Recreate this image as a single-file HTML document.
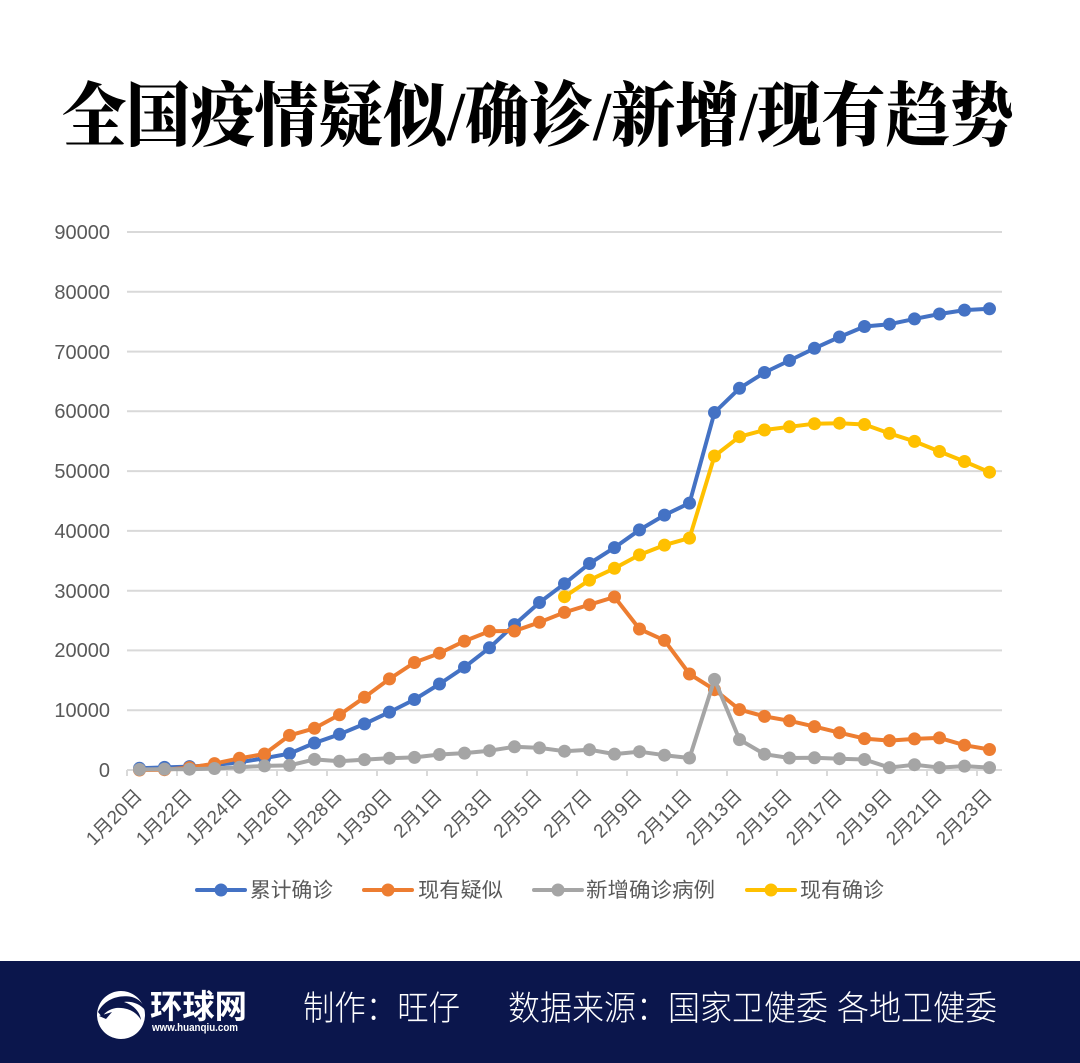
<!DOCTYPE html>
<html>
<head>
<meta charset="utf-8">
<style>
html,body{margin:0;padding:0;background:#fff;}
body{width:1080px;height:1063px;overflow:hidden;}
svg{display:block;}
</style>
</head>
<body>
<svg width="1080" height="1063" viewBox="0 0 1080 1063" xmlns="http://www.w3.org/2000/svg">
<rect x="0" y="0" width="1080" height="1063" fill="#ffffff"/>

<!-- Title -->
<text x="62" y="140" font-family="'Liberation Serif','Noto Serif CJK SC',serif" font-weight="900" font-size="70" fill="#000" textLength="952" lengthAdjust="spacingAndGlyphs">全国疫情疑似/确诊/新增/现有趋势</text>

<!-- Gridlines -->
<g stroke="#d9d9d9" stroke-width="2" fill="none">
<line x1="127" y1="232.0" x2="1002" y2="232.0"/>
<line x1="127" y1="291.8" x2="1002" y2="291.8"/>
<line x1="127" y1="351.6" x2="1002" y2="351.6"/>
<line x1="127" y1="411.3" x2="1002" y2="411.3"/>
<line x1="127" y1="471.1" x2="1002" y2="471.1"/>
<line x1="127" y1="530.9" x2="1002" y2="530.9"/>
<line x1="127" y1="590.7" x2="1002" y2="590.7"/>
<line x1="127" y1="650.4" x2="1002" y2="650.4"/>
<line x1="127" y1="710.2" x2="1002" y2="710.2"/>
<line x1="127" y1="770" x2="1002" y2="770"/>
</g>
<!-- Tick marks -->
<g stroke="#d9d9d9" stroke-width="2">
<line x1="127" y1="770" x2="127" y2="776"/><line x1="177" y1="770" x2="177" y2="776"/><line x1="227" y1="770" x2="227" y2="776"/><line x1="277" y1="770" x2="277" y2="776"/><line x1="327" y1="770" x2="327" y2="776"/><line x1="377" y1="770" x2="377" y2="776"/><line x1="427" y1="770" x2="427" y2="776"/><line x1="477" y1="770" x2="477" y2="776"/><line x1="527" y1="770" x2="527" y2="776"/><line x1="577" y1="770" x2="577" y2="776"/><line x1="627" y1="770" x2="627" y2="776"/><line x1="677" y1="770" x2="677" y2="776"/><line x1="727" y1="770" x2="727" y2="776"/><line x1="777" y1="770" x2="777" y2="776"/><line x1="827" y1="770" x2="827" y2="776"/><line x1="877" y1="770" x2="877" y2="776"/><line x1="927" y1="770" x2="927" y2="776"/><line x1="977" y1="770" x2="977" y2="776"/>
</g>

<!-- Y labels -->
<g font-family="'Liberation Sans',sans-serif" font-size="20" fill="#595959" text-anchor="end">
<text x="110" y="239">90000</text>
<text x="110" y="299">80000</text>
<text x="110" y="359">70000</text>
<text x="110" y="418">60000</text>
<text x="110" y="478">50000</text>
<text x="110" y="538">40000</text>
<text x="110" y="598">30000</text>
<text x="110" y="657">20000</text>
<text x="110" y="717">10000</text>
<text x="110" y="777">0</text>
</g>

<!-- X labels -->
<g font-family="'Liberation Sans','Noto Sans CJK SC',sans-serif" font-size="19" fill="#595959" text-anchor="end">
<text transform="translate(143,797) rotate(-45)">1月20日</text>
<text transform="translate(193,797) rotate(-45)">1月22日</text>
<text transform="translate(243,797) rotate(-45)">1月24日</text>
<text transform="translate(293,797) rotate(-45)">1月26日</text>
<text transform="translate(343,797) rotate(-45)">1月28日</text>
<text transform="translate(393,797) rotate(-45)">1月30日</text>
<text transform="translate(443,797) rotate(-45)">2月1日</text>
<text transform="translate(493,797) rotate(-45)">2月3日</text>
<text transform="translate(543,797) rotate(-45)">2月5日</text>
<text transform="translate(593,797) rotate(-45)">2月7日</text>
<text transform="translate(643,797) rotate(-45)">2月9日</text>
<text transform="translate(693,797) rotate(-45)">2月11日</text>
<text transform="translate(743,797) rotate(-45)">2月13日</text>
<text transform="translate(793,797) rotate(-45)">2月15日</text>
<text transform="translate(843,797) rotate(-45)">2月17日</text>
<text transform="translate(893,797) rotate(-45)">2月19日</text>
<text transform="translate(943,797) rotate(-45)">2月21日</text>
<text transform="translate(993,797) rotate(-45)">2月23日</text>
</g>

<!-- Blue: 累计确诊 -->
<g>
<polyline fill="none" stroke="#4472C4" stroke-width="4" stroke-linejoin="round" stroke-linecap="round" points="139.5,768.3 164.5,767.4 189.5,766.6 214.5,765.0 239.5,762.3 264.5,758.2 289.5,753.6 314.5,743.0 339.5,734.3 364.5,723.9 389.5,712.1 414.5,699.5 439.5,684.0 464.5,667.2 489.5,647.8 514.5,624.6 539.5,602.5 564.5,583.7 589.5,563.5 614.5,547.6 639.5,529.9 664.5,515.1 689.5,503.1 714.5,412.5 739.5,388.3 764.5,372.5 789.5,360.5 814.5,348.3 839.5,337.0 864.5,326.5 889.5,324.2 914.5,318.9 939.5,314.0 964.5,310.1 989.5,308.8"/>
<g fill="#4472C4">
<circle cx="139.5" cy="768.3" r="6.5"/><circle cx="164.5" cy="767.4" r="6.5"/><circle cx="189.5" cy="766.6" r="6.5"/><circle cx="214.5" cy="765.0" r="6.5"/><circle cx="239.5" cy="762.3" r="6.5"/><circle cx="264.5" cy="758.2" r="6.5"/><circle cx="289.5" cy="753.6" r="6.5"/><circle cx="314.5" cy="743.0" r="6.5"/><circle cx="339.5" cy="734.3" r="6.5"/><circle cx="364.5" cy="723.9" r="6.5"/><circle cx="389.5" cy="712.1" r="6.5"/><circle cx="414.5" cy="699.5" r="6.5"/><circle cx="439.5" cy="684.0" r="6.5"/><circle cx="464.5" cy="667.2" r="6.5"/><circle cx="489.5" cy="647.8" r="6.5"/><circle cx="514.5" cy="624.6" r="6.5"/><circle cx="539.5" cy="602.5" r="6.5"/><circle cx="564.5" cy="583.7" r="6.5"/><circle cx="589.5" cy="563.5" r="6.5"/><circle cx="614.5" cy="547.6" r="6.5"/><circle cx="639.5" cy="529.9" r="6.5"/><circle cx="664.5" cy="515.1" r="6.5"/><circle cx="689.5" cy="503.1" r="6.5"/><circle cx="714.5" cy="412.5" r="6.5"/><circle cx="739.5" cy="388.3" r="6.5"/><circle cx="764.5" cy="372.5" r="6.5"/><circle cx="789.5" cy="360.5" r="6.5"/><circle cx="814.5" cy="348.3" r="6.5"/><circle cx="839.5" cy="337.0" r="6.5"/><circle cx="864.5" cy="326.5" r="6.5"/><circle cx="889.5" cy="324.2" r="6.5"/><circle cx="914.5" cy="318.9" r="6.5"/><circle cx="939.5" cy="314.0" r="6.5"/><circle cx="964.5" cy="310.1" r="6.5"/><circle cx="989.5" cy="308.8" r="6.5"/>
</g>
</g>

<!-- Orange: 现有疑似 -->
<g>
<polyline fill="none" stroke="#ED7D31" stroke-width="4" stroke-linejoin="round" stroke-linecap="round" points="139.5,770 164.5,769.7 189.5,767.6 214.5,763.6 239.5,758.3 264.5,754.0 289.5,735.4 314.5,728.3 339.5,714.8 364.5,697.3 389.5,678.9 414.5,662.5 439.5,653.2 464.5,641.1 489.5,631.2 514.5,631.0 539.5,622.3 564.5,612.4 589.5,604.7 614.5,597.0 639.5,629.0 664.5,640.4 689.5,674.0 714.5,689.7 739.5,709.6 764.5,716.4 789.5,720.8 814.5,726.6 839.5,732.7 864.5,738.6 889.5,740.6 914.5,738.9 939.5,737.9 964.5,745.2 989.5,749.5"/>
<g fill="#ED7D31">
<circle cx="139.5" cy="770" r="6.5"/><circle cx="164.5" cy="769.7" r="6.5"/><circle cx="189.5" cy="767.6" r="6.5"/><circle cx="214.5" cy="763.6" r="6.5"/><circle cx="239.5" cy="758.3" r="6.5"/><circle cx="264.5" cy="754.0" r="6.5"/><circle cx="289.5" cy="735.4" r="6.5"/><circle cx="314.5" cy="728.3" r="6.5"/><circle cx="339.5" cy="714.8" r="6.5"/><circle cx="364.5" cy="697.3" r="6.5"/><circle cx="389.5" cy="678.9" r="6.5"/><circle cx="414.5" cy="662.5" r="6.5"/><circle cx="439.5" cy="653.2" r="6.5"/><circle cx="464.5" cy="641.1" r="6.5"/><circle cx="489.5" cy="631.2" r="6.5"/><circle cx="514.5" cy="631.0" r="6.5"/><circle cx="539.5" cy="622.3" r="6.5"/><circle cx="564.5" cy="612.4" r="6.5"/><circle cx="589.5" cy="604.7" r="6.5"/><circle cx="614.5" cy="597.0" r="6.5"/><circle cx="639.5" cy="629.0" r="6.5"/><circle cx="664.5" cy="640.4" r="6.5"/><circle cx="689.5" cy="674.0" r="6.5"/><circle cx="714.5" cy="689.7" r="6.5"/><circle cx="739.5" cy="709.6" r="6.5"/><circle cx="764.5" cy="716.4" r="6.5"/><circle cx="789.5" cy="720.8" r="6.5"/><circle cx="814.5" cy="726.6" r="6.5"/><circle cx="839.5" cy="732.7" r="6.5"/><circle cx="864.5" cy="738.6" r="6.5"/><circle cx="889.5" cy="740.6" r="6.5"/><circle cx="914.5" cy="738.9" r="6.5"/><circle cx="939.5" cy="737.9" r="6.5"/><circle cx="964.5" cy="745.2" r="6.5"/><circle cx="989.5" cy="749.5" r="6.5"/>
</g>
</g>

<!-- Gray: 新增确诊病例 -->
<g>
<polyline fill="none" stroke="#A5A5A5" stroke-width="4" stroke-linejoin="round" stroke-linecap="round" points="139.5,769.5 164.5,769.1 189.5,769.2 214.5,768.5 239.5,767.3 264.5,765.9 289.5,765.4 314.5,759.4 339.5,761.3 364.5,759.6 389.5,758.2 414.5,757.4 439.5,754.5 464.5,753.1 489.5,750.7 514.5,746.8 539.5,747.9 564.5,751.2 589.5,749.7 614.5,754.1 639.5,751.7 664.5,755.2 689.5,758.0 714.5,679.4 739.5,739.6 764.5,754.2 789.5,758.0 814.5,757.8 839.5,758.7 864.5,759.5 889.5,767.6 914.5,764.7 939.5,767.6 964.5,766.1 989.5,767.6"/>
<g fill="#A5A5A5">
<circle cx="139.5" cy="769.5" r="6.5"/><circle cx="164.5" cy="769.1" r="6.5"/><circle cx="189.5" cy="769.2" r="6.5"/><circle cx="214.5" cy="768.5" r="6.5"/><circle cx="239.5" cy="767.3" r="6.5"/><circle cx="264.5" cy="765.9" r="6.5"/><circle cx="289.5" cy="765.4" r="6.5"/><circle cx="314.5" cy="759.4" r="6.5"/><circle cx="339.5" cy="761.3" r="6.5"/><circle cx="364.5" cy="759.6" r="6.5"/><circle cx="389.5" cy="758.2" r="6.5"/><circle cx="414.5" cy="757.4" r="6.5"/><circle cx="439.5" cy="754.5" r="6.5"/><circle cx="464.5" cy="753.1" r="6.5"/><circle cx="489.5" cy="750.7" r="6.5"/><circle cx="514.5" cy="746.8" r="6.5"/><circle cx="539.5" cy="747.9" r="6.5"/><circle cx="564.5" cy="751.2" r="6.5"/><circle cx="589.5" cy="749.7" r="6.5"/><circle cx="614.5" cy="754.1" r="6.5"/><circle cx="639.5" cy="751.7" r="6.5"/><circle cx="664.5" cy="755.2" r="6.5"/><circle cx="689.5" cy="758.0" r="6.5"/><circle cx="714.5" cy="679.4" r="6.5"/><circle cx="739.5" cy="739.6" r="6.5"/><circle cx="764.5" cy="754.2" r="6.5"/><circle cx="789.5" cy="758.0" r="6.5"/><circle cx="814.5" cy="757.8" r="6.5"/><circle cx="839.5" cy="758.7" r="6.5"/><circle cx="864.5" cy="759.5" r="6.5"/><circle cx="889.5" cy="767.6" r="6.5"/><circle cx="914.5" cy="764.7" r="6.5"/><circle cx="939.5" cy="767.6" r="6.5"/><circle cx="964.5" cy="766.1" r="6.5"/><circle cx="989.5" cy="767.6" r="6.5"/>
</g>
</g>

<!-- Yellow: 现有确诊 -->
<g>
<polyline fill="none" stroke="#FFC000" stroke-width="4" stroke-linejoin="round" stroke-linecap="round" points="564.5,596.7 589.5,580.1 614.5,568.3 639.5,554.9 664.5,545.1 689.5,538.1 714.5,456.0 739.5,436.7 764.5,430.0 789.5,426.8 814.5,423.7 839.5,423.2 864.5,424.5 889.5,433.4 914.5,441.4 939.5,451.5 964.5,461.5 989.5,472.2"/>
<g fill="#FFC000">
<circle cx="564.5" cy="596.7" r="6.5"/><circle cx="589.5" cy="580.1" r="6.5"/><circle cx="614.5" cy="568.3" r="6.5"/><circle cx="639.5" cy="554.9" r="6.5"/><circle cx="664.5" cy="545.1" r="6.5"/><circle cx="689.5" cy="538.1" r="6.5"/><circle cx="714.5" cy="456.0" r="6.5"/><circle cx="739.5" cy="436.7" r="6.5"/><circle cx="764.5" cy="430.0" r="6.5"/><circle cx="789.5" cy="426.8" r="6.5"/><circle cx="814.5" cy="423.7" r="6.5"/><circle cx="839.5" cy="423.2" r="6.5"/><circle cx="864.5" cy="424.5" r="6.5"/><circle cx="889.5" cy="433.4" r="6.5"/><circle cx="914.5" cy="441.4" r="6.5"/><circle cx="939.5" cy="451.5" r="6.5"/><circle cx="964.5" cy="461.5" r="6.5"/><circle cx="989.5" cy="472.2" r="6.5"/>
</g>
</g>

<!-- Legend -->
<g stroke-width="4" stroke-linecap="round">
<line x1="197" y1="890" x2="245" y2="890" stroke="#4472C4"/>
<line x1="364" y1="890" x2="412" y2="890" stroke="#ED7D31"/>
<line x1="534" y1="890" x2="582" y2="890" stroke="#A5A5A5"/>
<line x1="747" y1="890" x2="795" y2="890" stroke="#FFC000"/>
</g>
<circle cx="221" cy="890" r="6.5" fill="#4472C4"/>
<circle cx="388" cy="890" r="6.5" fill="#ED7D31"/>
<circle cx="558" cy="890" r="6.5" fill="#A5A5A5"/>
<circle cx="771" cy="890" r="6.5" fill="#FFC000"/>
<g font-family="'Liberation Sans','Noto Sans CJK SC',sans-serif" font-size="20.5" fill="#595959">
<text x="250" y="897" textLength="83" lengthAdjust="spacingAndGlyphs">累计确诊</text>
<text x="418" y="897" textLength="85" lengthAdjust="spacingAndGlyphs">现有疑似</text>
<text x="586" y="897" textLength="129" lengthAdjust="spacingAndGlyphs">新增确诊病例</text>
<text x="800" y="897" textLength="84" lengthAdjust="spacingAndGlyphs">现有确诊</text>
</g>

<!-- Footer -->
<rect x="0" y="961" width="1080" height="102" fill="#0b164c"/>
<!-- logo -->
<circle cx="121" cy="1015" r="24" fill="#ffffff"/>
<path d="M98 1012 C104 1000 118 994 132 997 C139 999 144 1004 145 1010 C140 1004 132 1001 124 1002 C134 1005 140 1012 141 1020 C136 1011 126 1007 116 1008 C110 1009 105 1012 102 1017 Z" fill="#0b164c"/>
<path d="M99 1016 L112 1012 L106 1019 Z" fill="#0b164c"/>
<text x="150" y="1018" font-family="'Liberation Sans','Noto Sans CJK SC',sans-serif" font-weight="bold" font-size="33" fill="#ffffff" textLength="97" lengthAdjust="spacingAndGlyphs">环球网</text>
<text x="152" y="1031" font-family="'Liberation Sans',sans-serif" font-weight="bold" font-size="11" fill="#ffffff" textLength="86" lengthAdjust="spacingAndGlyphs">www.huanqiu.com</text>
<g font-family="'Liberation Sans','Noto Sans CJK SC',sans-serif" font-size="34" font-weight="300" fill="#ffffff">
<text x="303" y="1020" textLength="157" lengthAdjust="spacingAndGlyphs">制作：旺仔</text>
<text x="508" y="1020" textLength="489" lengthAdjust="spacingAndGlyphs">数据来源：国家卫健委 各地卫健委</text>
</g>
</svg>
</body>
</html>
